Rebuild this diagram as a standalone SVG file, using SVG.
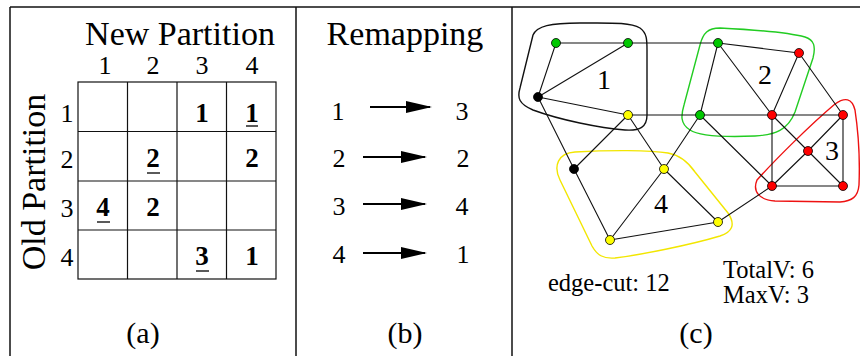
<svg xmlns="http://www.w3.org/2000/svg" width="860" height="356" viewBox="0 0 860 356">
  <style>
    .t { font-family: "Liberation Serif", "Times New Roman", serif; fill: #000; }
    .title { font-size: 34px; text-anchor: middle; }
    .num { font-size: 26px; text-anchor: middle; }
    .cell { font-size: 27px; font-weight: bold; text-anchor: middle; }
    .cap { font-size: 30px; text-anchor: middle; }
    .info { font-size: 24.5px; }
    .frame { stroke: #111; stroke-width: 1.5; fill: none; }
    .grid { stroke: #111; stroke-width: 1.2; fill: none; }
    .ul { stroke: #000; stroke-width: 1.3; }
    .edge { stroke: #111; stroke-width: 1.1; fill: none; }
    .blob { fill: none; stroke-width: 1.4; }
    .v { stroke: #000; stroke-width: 0.8; }
    .arrow { stroke: #000; stroke-width: 2.2; }
  </style>
  <defs>
    <marker id="head" markerWidth="26" markerHeight="12" refX="24" refY="6" orient="auto" markerUnits="userSpaceOnUse">
      <path d="M0,0 L26,6 L0,12 Z" fill="#000"/>
    </marker>
  </defs>

  <rect width="860" height="356" fill="#fff"/>

  <!-- panel frames -->
  <g id="frames">
    <line class="frame" x1="10" y1="7" x2="860" y2="7"/>
    <line class="frame" x1="10" y1="7" x2="10" y2="356"/>
    <line class="frame" x1="296" y1="7" x2="296" y2="356"/>
    <line class="frame" x1="512" y1="7" x2="512" y2="356"/>
  </g>

  <!-- (a) partition similarity matrix -->
  <g id="matrix">
    <text class="t title" x="180" y="45">New Partition</text>
    <text class="t title" transform="translate(45,182) rotate(-90)">Old Partition</text>
    <text class="t num" x="105" y="74">1</text>
    <text class="t num" x="153" y="74">2</text>
    <text class="t num" x="202" y="74">3</text>
    <text class="t num" x="252" y="74">4</text>
    <text class="t num" x="67" y="122">1</text>
    <text class="t num" x="67" y="168">2</text>
    <text class="t num" x="67" y="217">3</text>
    <text class="t num" x="67" y="266">4</text>
    <rect class="grid" x="78" y="82" width="198" height="197"/>
    <line class="grid" x1="127.5" y1="82" x2="127.5" y2="279"/>
    <line class="grid" x1="177" y1="82" x2="177" y2="279"/>
    <line class="grid" x1="226.5" y1="82" x2="226.5" y2="279"/>
    <line class="grid" x1="78" y1="131.5" x2="276" y2="131.5"/>
    <line class="grid" x1="78" y1="181" x2="276" y2="181"/>
    <line class="grid" x1="78" y1="230" x2="276" y2="230"/>
    <text class="t cell" x="202" y="122">1</text>
    <text class="t cell" x="252" y="122">1</text>
    <line class="ul" x1="246" y1="126" x2="258" y2="126"/>
    <text class="t cell" x="153" y="167">2</text>
    <line class="ul" x1="147" y1="173" x2="160" y2="173"/>
    <text class="t cell" x="103" y="216">4</text>
    <line class="ul" x1="97" y1="222" x2="110" y2="222"/>
    <text class="t cell" x="153" y="216">2</text>
    <text class="t cell" x="202" y="265">3</text>
    <line class="ul" x1="196" y1="271" x2="209" y2="271"/>
    <text class="t cell" x="252" y="265">1</text>
    <text class="t cell" x="252" y="167">2</text>
    <text class="t cap" x="143" y="343">(a)</text>
  </g>

  <!-- (b) remapping -->
  <g id="remap">
    <text class="t title" x="405" y="45">Remapping</text>
    <text class="t num" x="338" y="120">1</text>
    <text class="t num" x="462" y="120">3</text>
    <text class="t num" x="339" y="167">2</text>
    <text class="t num" x="463" y="167">2</text>
    <text class="t num" x="339" y="215">3</text>
    <text class="t num" x="462" y="215">4</text>
    <text class="t num" x="339" y="263">4</text>
    <text class="t num" x="463" y="263">1</text>
    <line class="arrow" x1="370" y1="107" x2="430" y2="107" marker-end="url(#head)"/>
    <line class="arrow" x1="363" y1="157" x2="425" y2="157" marker-end="url(#head)"/>
    <line class="arrow" x1="363" y1="204" x2="425" y2="204" marker-end="url(#head)"/>
    <line class="arrow" x1="363" y1="253" x2="425" y2="253" marker-end="url(#head)"/>
    <text class="t cap" x="405" y="343">(b)</text>
  </g>

  <!-- (c) partitioned graph -->
  <g id="regions">
    <path class="blob" stroke="#111" d="M580,23 C610,23 630,22 640,28 C647,33 647,40 647,50 L647,115 C647,127 640,131 625,130 C600,128 560,120 533,110 C519,104 517,98 520,88 L533,35 C537,26 550,23 580,23 Z"/>
    <path class="blob" stroke="#22cc22" d="M720,28 C760,30 790,33 805,37 C814,40 816,46 813,58 L795,112 C788,130 775,135 755,136 C730,137 700,137 690,130 C680,124 681,115 684,105 L700,45 C703,33 708,28 720,28 Z"/>
    <path class="blob" stroke="#ee1111" d="M757,180 C775,160 810,125 835,104 C845,97 852,98 855,110 C858,130 860,160 859,185 C858,197 852,201 840,202 L775,201 C760,200 752,192 757,180 Z"/>
    <path class="blob" stroke="#f2e600" d="M575,152 C610,150 650,150 668,153 C680,155 688,162 695,172 L728,213 C736,225 732,232 720,236 C690,245 640,255 615,258 C603,259 597,255 592,246 L560,180 C553,166 558,153 575,152 Z"/>
  </g>

  <g id="edges">
    <path class="edge" d="M556,43 L628,43 M628,43 L718,43 M718,43 L799,53 M556,43 L538,97 M628,43 L538,97 M538,97 L628,115 M538,97 L574,169 M628,115 L700,115 M700,115 L772,115 M772,115 L843,115 M628,115 L574,169 M628,115 L664,169 M718,43 L700,115 M718,43 L772,115 M799,53 L772,115 M799,53 L843,115 M700,115 L664,169 M700,115 L772,186 M772,115 L772,186 M772,115 L808,151 M808,151 L843,186 M843,115 L808,151 M808,151 L772,186 M843,115 L843,186 M772,186 L843,186 M772,186 L718,222 M574,169 L610,240 M664,169 L610,240 M664,169 L718,222 M610,240 L718,222"/>
  </g>

  <g id="n-g1"><circle class="v" cx="556" cy="43" r="4.5" fill="#00c800"/></g>
  <g id="n-g2"><circle class="v" cx="628" cy="43" r="4.5" fill="#00c800"/></g>
  <g id="n-g3"><circle class="v" cx="718" cy="43" r="4.5" fill="#00c800"/></g>
  <g id="n-g4"><circle class="v" cx="700" cy="115" r="4.5" fill="#00c800"/></g>
  <g id="n-r1"><circle class="v" cx="799" cy="53" r="4.5" fill="#f00"/></g>
  <g id="n-r2"><circle class="v" cx="772" cy="115" r="4.5" fill="#f00"/></g>
  <g id="n-r3"><circle class="v" cx="843" cy="115" r="4.5" fill="#f00"/></g>
  <g id="n-r4"><circle class="v" cx="808" cy="151" r="4.5" fill="#f00"/></g>
  <g id="n-r5"><circle class="v" cx="772" cy="186" r="4.5" fill="#f00"/></g>
  <g id="n-r6"><circle class="v" cx="843" cy="186" r="4.5" fill="#f00"/></g>
  <g id="n-k1"><circle class="v" cx="538" cy="97" r="4.5" fill="#000"/></g>
  <g id="n-k2"><circle class="v" cx="574" cy="169" r="4.5" fill="#000"/></g>
  <g id="n-y1"><circle class="v" cx="628" cy="115" r="4.5" fill="#ff0"/></g>
  <g id="n-y2"><circle class="v" cx="664" cy="169" r="4.5" fill="#ff0"/></g>
  <g id="n-y3"><circle class="v" cx="718" cy="222" r="4.5" fill="#ff0"/></g>
  <g id="n-y4"><circle class="v" cx="610" cy="240" r="4.5" fill="#ff0"/></g>

  <g id="labels">
    <text class="t" font-size="28" text-anchor="middle" x="604" y="89">1</text>
    <text class="t" font-size="28" text-anchor="middle" x="765" y="84">2</text>
    <text class="t" font-size="28" text-anchor="middle" x="832" y="160">3</text>
    <text class="t" font-size="28" text-anchor="middle" x="661" y="213">4</text>
    <text class="t info" x="548" y="291">edge-cut: 12</text>
    <text class="t info" x="723" y="278">TotalV: 6</text>
    <text class="t info" x="723" y="303">MaxV: 3</text>
    <text class="t cap" x="696" y="343">(c)</text>
  </g>
</svg>
